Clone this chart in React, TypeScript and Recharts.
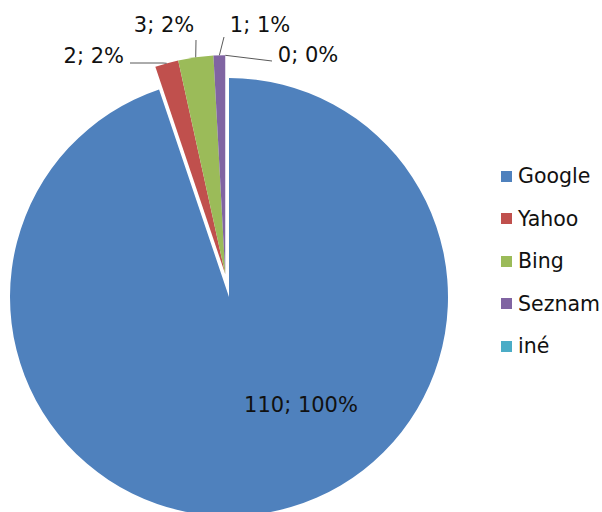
import React from "react";
import { PieChart, Pie, Cell, Legend, Sector } from "recharts";

const engines = ["Google", "Yahoo", "Bing", "Seznam", "iné"];
const visits = [110, 2, 3, 1, 0];
const shareLabels = ["110; 100%", "2; 2%", "3; 2%", "1; 1%", "0; 0%"];
const colors = ["#4F81BD", "#C0504D", "#9BBB59", "#8064A2", "#4BACC6"];

const data = engines.map((name, i) => ({ name, value: visits[i], label: shareLabels[i] }));

const RADIAN = Math.PI / 180;
const FONT = "'DejaVu Sans', Verdana, sans-serif";
const EXPLODE = 23;

// the small slices are pulled out together, along the middle of their shared arc
const total = visits.reduce((a, b) => a + b, 0);
const groupMid = 90 - (360 * (visits[0] + (total - visits[0]) / 2)) / total;

// where each label sits (text x, baseline y, anchor, and the point where the leader starts)
const labelLayout = [
    { x: 301, y: 412, anchor: "middle", lead: null },
    { x: 124, y: 63, anchor: "end", lead: { x: 130, y: 63, bend: { x: 163, y: 63 } } },
    { x: 164, y: 32, anchor: "middle", lead: { x: 196, y: 40, bend: null } },
    { x: 260, y: 32, anchor: "middle", lead: { x: 224, y: 37, bend: null } },
    { x: 308, y: 62, anchor: "middle", lead: { x: 272, y: 61, bend: null } },
];

const explodeOffset = (index: number) => {
    if (index === 0) return { dx: 0, dy: 0 };
    return {
        dx: Math.cos(-groupMid * RADIAN) * EXPLODE,
        dy: Math.sin(-groupMid * RADIAN) * EXPLODE,
    };
};

const renderShape = (props: any, index: number) => {
    const { dx, dy } = explodeOffset(index);
    return (
        <Sector
            cx={props.cx + dx}
            cy={props.cy + dy}
            innerRadius={0}
            outerRadius={props.outerRadius}
            startAngle={props.startAngle}
            endAngle={props.endAngle}
            fill={props.fill}
            stroke="none"
        />
    );
};

const renderLabel = (props: any) => {
    const { cx, cy, midAngle, outerRadius, index } = props;
    const lay = labelLayout[index];
    const { dx, dy } = explodeOffset(index);
    const ex = cx + dx + Math.cos(-midAngle * RADIAN) * outerRadius;
    const ey = cy + dy + Math.sin(-midAngle * RADIAN) * outerRadius;
    let line = null;
    if (lay.lead) {
        const pts = [lay.lead, lay.lead.bend, { x: ex, y: ey }].filter(Boolean) as { x: number; y: number }[];
        line = (
            <polyline
                points={pts.map((p) => `${p.x},${p.y}`).join(" ")}
                fill="none"
                stroke="#595959"
                strokeWidth={1}
            />
        );
    }
    return (
        <g key={`lbl-${index}`}>
            {line}
            <text
                x={lay.x}
                y={lay.y}
                textAnchor={lay.anchor as any}
                fontFamily={FONT}
                fontSize={21}
                fill="#111"
            >
                {data[index].label}
            </text>
        </g>
    );
};

const renderLegend = () => (
    <div style={{ fontFamily: FONT, fontSize: 20.5, color: "#111" }}>
        {engines.map((name, i) => (
            <div key={name} style={{ height: 42.5, display: "flex", alignItems: "center" }}>
                <div style={{ width: 11, height: 11, background: colors[i], marginRight: 6 }} />
                <span>{name}</span>
            </div>
        ))}
    </div>
);

export default function App() {
    return (
        <div style={{ position: "absolute", left: 0, top: 0, width: 602, height: 512, background: "#fff" }}>
            <PieChart width={602} height={512} margin={{ top: 0, right: 0, bottom: 0, left: 0 }}>
                <Pie
                    data={data}
                    dataKey="value"
                    nameKey="name"
                    cx={229}
                    cy={297}
                    outerRadius={219}
                    startAngle={90}
                    endAngle={-270}
                    shape={renderShape}
                    label={renderLabel}
                    labelLine={false}
                    isAnimationActive={false}
                >
                    {data.map((entry, i) => (
                        <Cell key={`cell-${i}`} fill={colors[i]} />
                    ))}
                </Pie>
                <Legend
                    content={renderLegend}
                    layout="vertical"
                    align="right"
                    verticalAlign="top"
                    wrapperStyle={{ left: 501, top: 155, width: 101 }}
                />
            </PieChart>
        </div>
    );
}
